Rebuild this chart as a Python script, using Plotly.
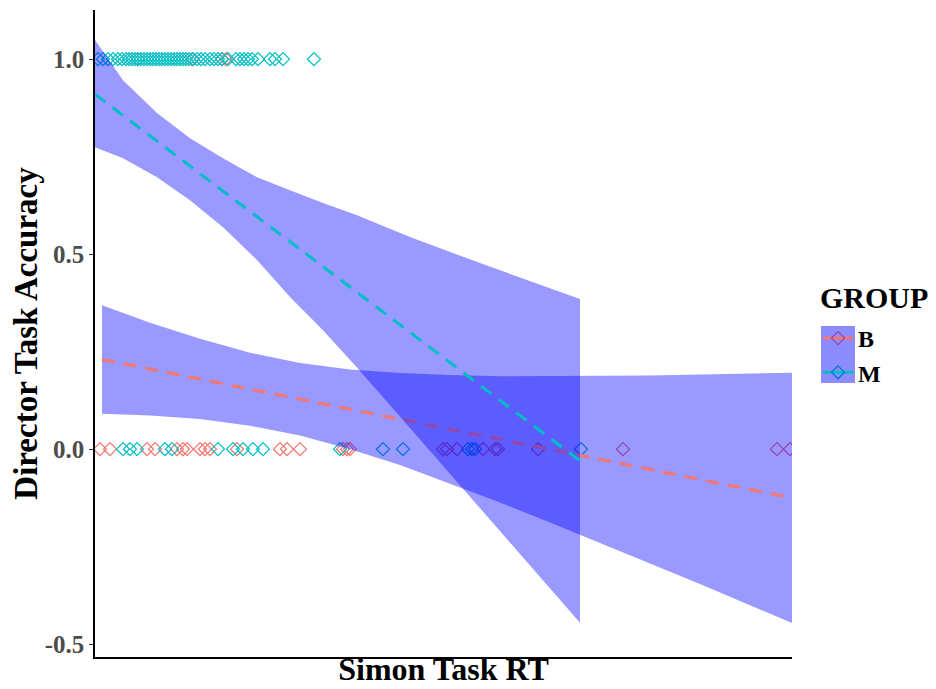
import plotly.graph_objects as go

# ---- data ----
groups = ["B", "M"]
colors = {"B": "#F8766D", "M": "#00BFC4"}
key_marker_colors = {"B": "#9547A7", "M": "#0073DC"}

# Simon Task RT values for accuracy = 1
m_rt_acc1 = [303, 308, 313, 318, 323, 327, 331, 334, 337, 340, 343, 346, 349, 352, 355,
             358, 361, 364, 367, 370, 373, 376, 379, 382, 385, 388, 391, 394, 398, 402,
             406, 410, 415, 419, 423, 427, 433, 441, 445, 449, 453, 457, 463, 475, 480,
             488, 519]
b_rt_acc1 = [343, 397, 427, 431]
# Simon Task RT values for accuracy = 0
m_rt_acc0 = [328, 335, 342, 370, 377, 423, 438, 448, 458, 468, 545, 588, 608, 673, 677,
             680, 786]
b_rt_acc0 = [305, 315, 352, 360, 382, 388, 392, 405, 410, 415, 442, 485, 492, 505, 548,
             552, 555, 648, 652, 662, 688, 700, 703, 743, 828, 982, 995]

# fitted lines (endpoints)
b_fit_x = [307, 997]
b_fit_y = [0.230, -0.125]
m_fit_x = [300, 785]
m_fit_y = [0.910, -0.030]

# confidence bands
b_band_x = [307, 355, 405, 455, 505, 555, 605, 655, 705, 755, 805, 855, 905, 955, 997]
b_band_hi = [0.369, 0.324, 0.283, 0.247, 0.221, 0.204, 0.195, 0.190, 0.187, 0.187,
             0.188, 0.189, 0.191, 0.193, 0.196]
b_band_lo = [0.091, 0.086, 0.077, 0.060, 0.035, 0.000, -0.041, -0.088, -0.137, -0.188,
             -0.240, -0.293, -0.346, -0.400, -0.446]
m_band_x = [300, 328, 362, 395, 428, 462, 495, 528, 562, 615, 685, 785]
m_band_hi = [1.049, 0.946, 0.862, 0.797, 0.746, 0.697, 0.664, 0.631, 0.600, 0.544,
             0.477, 0.385]
m_band_lo = [0.774, 0.746, 0.697, 0.638, 0.569, 0.485, 0.390, 0.305, 0.209, 0.054,
             -0.150, -0.445]

y_ticks = [-0.5, 0.0, 0.5, 1.0]
y_tick_labels = ["-0.5", "0.0", "0.5", "1.0"]

FONT = "Liberation Serif"
RIBBON = "rgba(0,0,255,0.4)"

points = {
    "B": (b_rt_acc1 + b_rt_acc0, [1.0] * len(b_rt_acc1) + [0.0] * len(b_rt_acc0)),
    "M": (m_rt_acc1 + m_rt_acc0, [1.0] * len(m_rt_acc1) + [0.0] * len(m_rt_acc0)),
}
fits = {"B": (b_fit_x, b_fit_y), "M": (m_fit_x, m_fit_y)}
bands = {"B": (b_band_x, b_band_hi, b_band_lo), "M": (m_band_x, m_band_hi, m_band_lo)}

fig = go.Figure()

# points first
for g in groups:
    xs, ys = points[g]
    fig.add_trace(go.Scatter(
        x=xs, y=ys, mode="markers", showlegend=False,
        marker=dict(symbol="diamond-open", size=10, color=colors[g],
                    line=dict(width=1.3, color=colors[g])),
    ))

# ribbon + line per group
for g in groups:
    bx, bhi, blo = bands[g]
    fig.add_trace(go.Scatter(
        x=bx + bx[::-1], y=bhi + blo[::-1], mode="lines", fill="toself",
        fillcolor=RIBBON, line=dict(width=0), showlegend=False, hoverinfo="skip",
    ))
    fx, fy = fits[g]
    fig.add_trace(go.Scatter(
        x=fx, y=fy, mode="lines", showlegend=False,
        line=dict(color=colors[g], width=3, dash="13px,9px"),
    ))

# legend entries
for g in groups:
    fig.add_trace(go.Scatter(
        x=[None], y=[None], mode="lines+markers", name=g,
        line=dict(color=colors[g], width=3),
        marker=dict(symbol="diamond-open", size=10, color=key_marker_colors[g],
                    line=dict(width=1.3, color=key_marker_colors[g])),
    ))

fig.update_layout(
    width=928, height=681,
    margin=dict(l=87, r=144, t=2, b=32, autoexpand=False),
    paper_bgcolor="white", plot_bgcolor="white",
    font=dict(family=FONT, color="black"),
    xaxis=dict(
        range=[300, 997], showgrid=False, zeroline=False, automargin=False,
        showline=True, linecolor="black", linewidth=1.5,
        showticklabels=False, ticks="",
        title=dict(text="Simon Task RT", standoff=0,
                   font=dict(family=FONT, size=32, color="black", weight="bold")),
    ),
    yaxis=dict(
        range=[-0.533, 1.126], showgrid=False, zeroline=False, automargin=False,
        showline=True, linecolor="black", linewidth=1.5,
        tickvals=y_ticks, ticktext=y_tick_labels,
        ticks="outside", ticklen=4, tickwidth=1, tickcolor="#333333",
        tickfont=dict(family=FONT, size=25, color="#4D4D4D", weight="bold"),
        title=dict(text="Director Task Accuracy", standoff=1,
                   font=dict(family=FONT, size=33, color="black", weight="bold")),
    ),
    legend=dict(
        x=1.0287, y=0.466, xanchor="left", yanchor="middle",
        bgcolor="rgba(0,0,0,0)", indentation=6,
        font=dict(family=FONT, size=24, color="black", weight="bold"),
        itemwidth=30,
    ),
    annotations=[dict(text="GROUP", xref="paper", yref="paper",
                      x=1.0373, y=0.5549, xanchor="left", yanchor="middle",
                      showarrow=False,
                      font=dict(family=FONT, size=30, color="black", weight="bold"))],
    shapes=[dict(type="rect", xref="paper", yref="paper",
                 x0=1.0416, x1=1.0904, y0=0.4235, y1=0.5116,
                 fillcolor="rgba(0,0,255,0.45)", line=dict(width=0), layer="below")],
)

fig.write_html("out.html")
